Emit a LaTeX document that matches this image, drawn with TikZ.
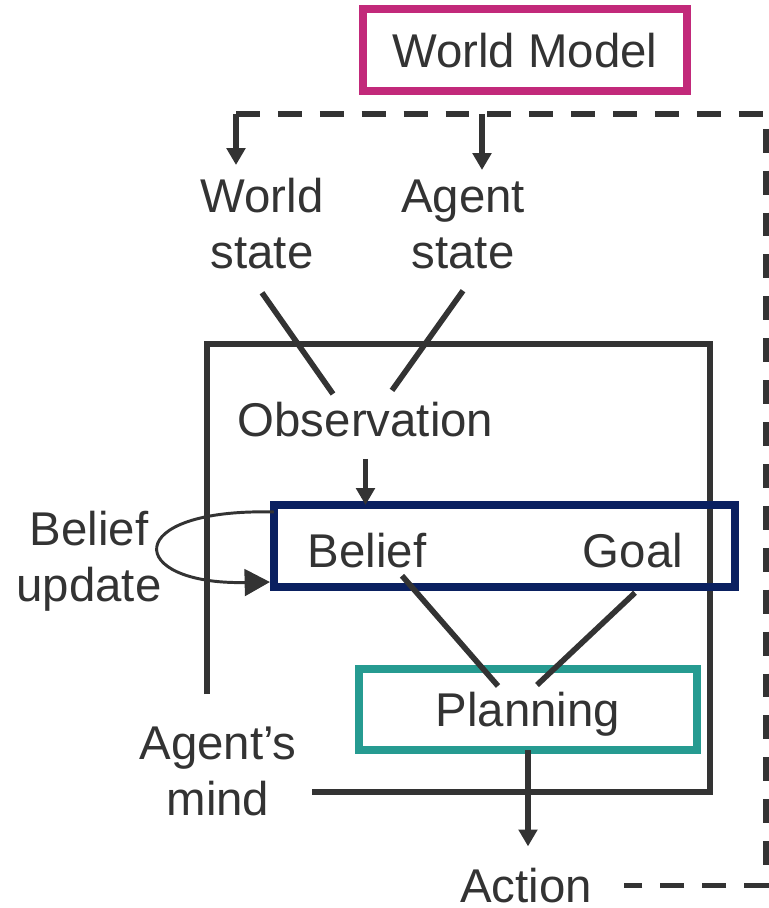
\documentclass[tikz,border=0pt]{standalone}
\usepackage{fontspec}
\setmainfont{Liberation Sans}
\usepackage{tikz}
\usetikzlibrary{arrows.meta,calc,positioning}
\definecolor{ink}{HTML}{333333}
\definecolor{wmpink}{HTML}{C2297A}
\definecolor{bgnavy}{HTML}{0A2060}
\definecolor{planteal}{HTML}{269B91}
\tikzset{
    %Define standard arrow tip
    >={Triangle[length=12pt,width=13pt]},
    %Define style for labels
    lbl/.style={
           inner sep=0pt,
           anchor=base,
           align=center,
           text=ink,
           font=\fontsize{33.7}{39.8}\selectfont},
    %Define style for boxes
    box/.style={
           rectangle,
           draw, line width=5.7pt,
           inner sep=0pt, outer sep=0pt,
           text depth=0pt,
           text=ink,
           font=\fontsize{33.7}{39.8}\selectfont},
    % Define arrow style
    arr/.style={
           ->,
           draw=ink, line width=4pt},
    link/.style={draw=ink, line width=4pt},
    loopback/.style={
           -{Triangle[length=18pt,width=19pt]},
           draw=ink, line width=2.1pt},
    feedback/.style={
           draw=ink, line width=3.6pt,
           dash pattern=on 17pt off 12.8pt},
    mindframe/.style={draw=ink, line width=4.3pt}
}

\begin{document}
\begin{tikzpicture}[x=0.025cm,y=-0.025cm]
\useasboundingbox (0,0) rectangle (769,908);
 %frame of the agent's mind
\draw[mindframe] (207,694) |- (710,344) |- (312,792);

 %nodes
\node[box, draw=wmpink, minimum width=8.1cm, minimum height=2.05cm] (wm) at (525,50) {World Model};
\node[lbl] (ws) at (262,268) {World\\state};
\node[lbl] (as) at (463,268) {Agent\\state};
\node[lbl] (obs) at (365.5,436) {Observation};
\node[box, draw=bgnavy, minimum width=11.525cm, minimum height=2.05cm] (bg) at (504.5,546) {};
\node[lbl] (bel) at (367,567) {Belief};
\node[lbl] (goal) at (633,567) {Goal};
\node[lbl] (bu) at (89,601) {Belief\\update};
\node[box, draw=planteal, minimum width=8.45cm, minimum height=2.025cm] (plan) at (528,709.5) {Planning};
\node[lbl] (mind) at (218,815) {Agent’s\\mind};
\node[lbl] (act) at (526,902) {Action};

\coordinate (wmL) at (236,114);
\coordinate (wmR) at (482,114);
\coordinate (fbR) at (766,114);

 %connectors
\draw[feedback] (wmL) -- (fbR) |- ($(act.east)+(32,0)$);
\draw[arr] (wmL) -- ++(0,51);
\draw[arr] (wmR) -- ++(0,56);
\draw[link] ($(ws.south)+(0,24)$) -- ($(obs.north)+(-32.5,-7.4)$);
\draw[link] ($(as.south)+(0,22)$) -- ($(obs.north)+(26.5,-11)$);
\draw[arr] ($(obs.south)+(0,22)$) -- (obs.south |- bg.north);
\draw[loopback] ($(bg.north west)+(0,7)$) .. controls (120,508) and (125,585) .. ($(bg.south west)+(-4,-5)$);
\draw[link] ($(bel.south)+(35,8)$) -- ($(plan.north)+(-30,17)$);
\draw[link] ($(goal.south)+(2,25)$) -- ($(plan.north)+(9,16)$);
\draw[arr] (plan.south) -- ($(plan.south |- act.north)+(0,-21)$);
\end{tikzpicture}
\end{document}
